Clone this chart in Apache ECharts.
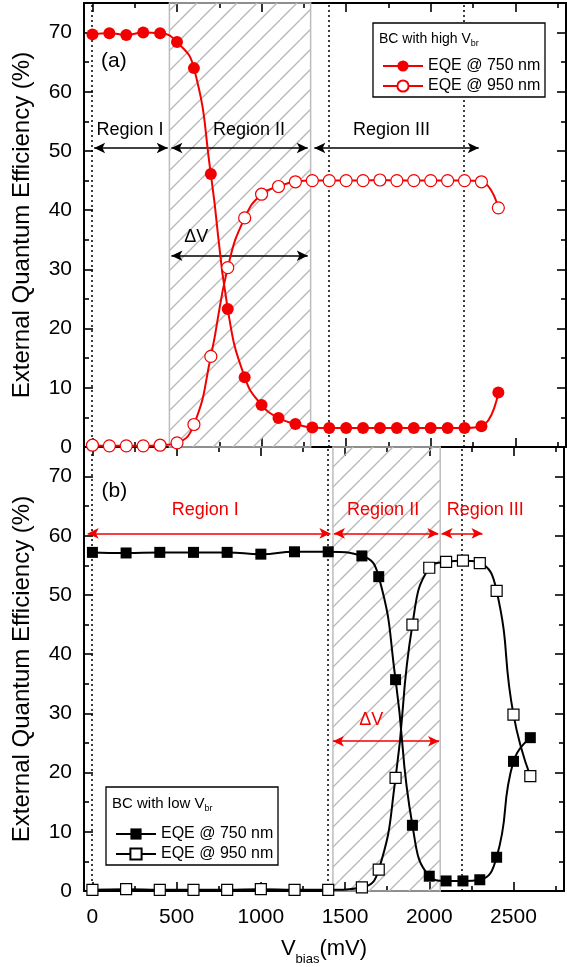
<!DOCTYPE html>
<html><head><meta charset="utf-8">
<script src="https://cdn.jsdelivr.net/npm/echarts@6/dist/echarts.min.js"></script>
<style>html,body{margin:0;padding:0;background:#fff}#c{width:567px;height:967px}</style>
</head><body><div id="c"></div>
<script>
const FONT = '"Liberation Sans", Arial, sans-serif';
const RED = '#f20000';

// ---------- data (panel a: BC with high Vbr) ----------
const biasHigh = [0,100,200,300,400,500,600,700,800,900,1000,1100,1200,1300,1400,1500,1600,1700,1800,1900,2000,2100,2200,2300,2400];
const eqe750High = [69.7,69.9,69.6,70.0,69.9,68.4,64.0,46.1,23.3,11.8,7.1,4.9,3.9,3.3,3.2,3.2,3.2,3.2,3.2,3.2,3.2,3.2,3.2,3.5,9.2];
const eqe950High = [0.3,0.2,0.2,0.2,0.3,0.7,3.8,15.3,30.3,38.7,42.7,44.0,44.8,45.0,45.0,45.0,45.0,45.1,45.0,45.0,45.0,45.0,45.0,44.8,40.4];

// ---------- data (panel b: BC with low Vbr) ----------
const biasLow = [0,200,400,600,800,1000,1200,1400,1600,1700,1800,1900,2000,2100,2200,2300,2400,2500,2600];
const eqe750Low = [57.2,57.1,57.2,57.2,57.2,56.9,57.3,57.3,56.6,53.1,35.7,11.1,2.5,1.7,1.7,1.9,5.7,21.9,25.9];
const eqe950Low = [0.2,0.3,0.2,0.2,0.2,0.3,0.2,0.2,0.6,3.6,19.1,45.0,54.6,55.6,55.8,55.4,50.7,29.8,19.4];

// ---------- annotations ----------
const hatchA = [455, 1290];
const hatchB = [1428, 2065];
const dottedX = [-5, 1395, 2195];
const arrowsA = [[10,445,50.5],[467,1273,50.5],[1312,2284,50.5],[467,1273,32.3]];
const arrowsB = [[-28,1413,60.4],[1434,2054,60.4],[2073,2316,60.4],[1428,2058,25.3]];
const labelsA = [['Region I',222,53.5],['Region II',926,53.5],['Region III',1768,53.5],['\u0394V',614,35.4]];
const labelsB = [['Region I',670,64.4],['Region II',1726,64.4],['Region III',2333,64.4],['\u0394V',1655,28.8]];
const panelTags = [['(a)',127,65.2],['(b)',130,67.5]];
const legendNames = {a750:'EQE @ 750 nm', a950:'EQE @ 950 nm', b750:'EQE @ 750 nm', b950:'EQE @ 950 nm'};

function hatchPattern(){
  const s = 20, c = document.createElement('canvas');
  c.width = s; c.height = s;
  const g = c.getContext('2d');
  g.strokeStyle = '#b8b8b8'; g.lineWidth = 1.4;
  g.beginPath();
  for (let k = -1; k <= 1; k++) { g.moveTo(k*s, s); g.lineTo(k*s + s, 0); }
  g.stroke();
  return c;
}
const pat = hatchPattern();

const tickStyle = {color:'#000', width:1.6};
function xAx(grid, pos, showLabel, name){
  const a = {
    type:'value', gridIndex:grid, position:pos, min:-50, max:2800,
    axisLine:{onZero:false, lineStyle:{color:'#000', width:2}},
    axisTick:{inside:true, length:9, lineStyle:tickStyle},
    minorTick:{show:true, splitNumber:2, length:5, lineStyle:tickStyle},
    splitLine:{show:false}, minorSplitLine:{show:false},
    axisLabel:{show:showLabel, fontSize:21, color:'#000', fontFamily:FONT, margin:16,
      formatter: v => (v % 500 === 0 ? String(v) : '')}
  };
  if (name) {
    a.name = '{v|V}{s|bias}{v|(mV)}';
    a.nameLocation = 'middle';
    a.nameGap = 40;
    a.nameTextStyle = {rich:{
      v:{fontSize:22, fontFamily:FONT, color:'#000'},
      s:{fontSize:13, fontFamily:FONT, color:'#000', padding:[22,0,0,0]}
    }};
  }
  return a;
}
function yAx(grid, pos, showLabel){
  const a = {
    type:'value', gridIndex:grid, position:pos, min:0, max:75, interval:10,
    axisLine:{onZero:false, lineStyle:{color:'#000', width:2}},
    axisTick:{inside:true, length:9, lineStyle:tickStyle},
    minorTick:{show:true, splitNumber:2, length:5, lineStyle:tickStyle},
    splitLine:{show:false}, minorSplitLine:{show:false},
    axisLabel:{show:showLabel, fontSize:21, color:'#000', fontFamily:FONT, margin:12,
      formatter: v => (v % 10 === 0 ? String(v) : '')}
  };
  if (showLabel) {
    a.name = 'External Quantum Efficiency (%)';
    a.nameLocation = 'middle';
    a.nameGap = 50;
    a.nameTextStyle = {fontSize:24, fontFamily:FONT, color:'#000'};
  }
  return a;
}

function annotSeries(g, hatch, arrows, labels, tag, color){
  return [
    {type:'line', xAxisIndex:g*2, yAxisIndex:g*2, data:[], silent:true, z:1,
     markArea:{silent:true, itemStyle:{color:{image:pat, repeat:'repeat'}, borderColor:'#bdbdbd', borderWidth:1.5},
       data:[[{xAxis:hatch[0]},{xAxis:hatch[1]}]]}},
    {type:'line', xAxisIndex:g*2, yAxisIndex:g*2, data:[], silent:true, z:2,
     markLine:{silent:true, symbol:'none', label:{show:false},
       lineStyle:{color:'#000', width:1.5, type:[2,3]},
       data: dottedX.map(x => ({xAxis:x}))}},
    {type:'line', xAxisIndex:g*2, yAxisIndex:g*2, data:[], silent:true, z:3,
     markLine:{silent:true, symbol:['arrow','arrow'], symbolSize:[8,11], label:{show:false},
       lineStyle:{color:color, width:1.5, type:'solid'},
       data: arrows.map(a => [{coord:[a[0],a[2]]},{coord:[a[1],a[2]]}])}},
    {type:'line', xAxisIndex:g*2, yAxisIndex:g*2, data:[], silent:true, z:3,
     markPoint:{silent:true, symbol:'circle', symbolSize:1, itemStyle:{color:'rgba(0,0,0,0)'},
       label:{show:true, position:'inside', formatter:'{b}', color:color, fontSize:18, fontFamily:FONT},
       data: labels.map(l => ({name:l[0], coord:[l[1],l[2]]})).concat([
         {name:tag[0], coord:[tag[1],tag[2]], label:{color:'#000', fontSize:21}}])}}
  ];
}

function dataSeries(name, g, xs, ys, color, symbol, filled){
  return {
    name, type:'line', xAxisIndex:g*2, yAxisIndex:g*2,
    data: xs.map((x,i) => [x, ys[i]]),
    smooth:0.5,
    symbol, symbolSize: symbol === 'rect' ? 11 : 12,
    itemStyle: filled ? {color:color} : {color:'#fff', borderColor:color, borderWidth:1.2},
    lineStyle:{color:color, width:2},
    z:5, animation:false
  };
}

const legendCommon = {orient:'vertical', itemWidth:40, itemHeight:14, itemGap:4, z:12,
  textStyle:{fontSize:16, fontFamily:FONT, color:'#000'}, selectedMode:false,
  formatter: n => legendNames[n]};

const option = {
  animation:false,
  backgroundColor:'#fff',
  grid:[{left:84, right:1, top:3, height:444}, {left:84, right:1, top:447, height:444}],
  xAxis:[xAx(0,'bottom',false), xAx(0,'top',false), xAx(1,'bottom',true,true), xAx(1,'top',false)],
  yAxis:[yAx(0,'left',true), yAx(0,'right',false), yAx(1,'left',true), yAx(1,'right',false)],
  legend:[
    Object.assign({data:['a750','a950'], left:377, top:53}, legendCommon),
    Object.assign({data:['b750','b950'], left:110, top:821}, legendCommon)
  ],
  graphic:[
    {type:'rect', z:10, shape:{x:373, y:23, width:172, height:74}, style:{fill:'#fff', stroke:'#000', lineWidth:1.3}},
    {type:'text', z:11, x:379, y:30, style:{text:'{t|BC with high V}{s|br}', rich:{
       t:{fontSize:14, fontFamily:FONT, fill:'#000'}, s:{fontSize:9, fontFamily:FONT, fill:'#000', padding:[9,0,0,0]}}}},
    {type:'rect', z:10, shape:{x:106, y:787, width:172, height:78}, style:{fill:'#fff', stroke:'#000', lineWidth:1.3}},
    {type:'text', z:11, x:112, y:795, style:{text:'{t|BC with low V}{s|br}', rich:{
       t:{fontSize:15, fontFamily:FONT, fill:'#000'}, s:{fontSize:9, fontFamily:FONT, fill:'#000', padding:[9,0,0,0]}}}}
  ],
  series:[].concat(
    annotSeries(0, hatchA, arrowsA, labelsA, panelTags[0], '#000'),
    annotSeries(1, hatchB, arrowsB, labelsB, panelTags[1], RED),
    [
      dataSeries('a750', 0, biasHigh, eqe750High, RED, 'circle', true),
      dataSeries('a950', 0, biasHigh, eqe950High, RED, 'circle', false),
      dataSeries('b750', 1, biasLow, eqe750Low, '#000', 'rect', true),
      dataSeries('b950', 1, biasLow, eqe950Low, '#000', 'rect', false)
    ]
  )
};
const chart = echarts.init(document.getElementById('c'), null, {renderer:'canvas'});
chart.setOption(option);
</script>
</body></html>
